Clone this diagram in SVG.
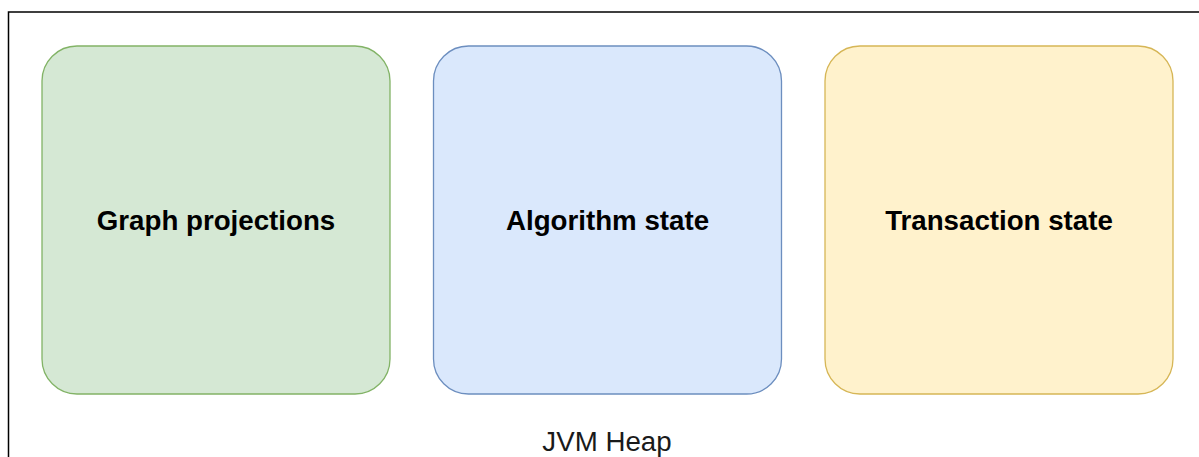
<svg xmlns="http://www.w3.org/2000/svg" width="1199" height="457" viewBox="0 0 1199 457">
<style>
.box{stroke-width:1.3}
.lbl{font-family:"Liberation Sans",Arial,sans-serif;font-weight:bold;font-size:27.7px;fill:#000;text-anchor:middle}
.heap{font-family:"Liberation Sans",Arial,sans-serif;font-size:27.7px;fill:#1a1a1a;text-anchor:middle}
</style>
<rect width="1199" height="457" fill="#fff"/>
<g id="jvm-heap">
<rect x="8.5" y="12" width="1200" height="460" fill="none" stroke="#000" stroke-width="1.5"/>
<text class="heap" x="607" y="451">JVM Heap</text>
</g>
<g id="graph-projections">
<rect class="box" x="42" y="46" width="348" height="348" rx="35" fill="#d5e8d4" stroke="#82b366"/>
<text class="lbl" x="216" y="230">Graph projections</text>
</g>
<g id="algorithm-state">
<rect class="box" x="433.5" y="46" width="348" height="348" rx="35" fill="#dae8fc" stroke="#6c8ebf"/>
<text class="lbl" x="607.5" y="230">Algorithm state</text>
</g>
<g id="transaction-state">
<rect class="box" x="825" y="46" width="348" height="348" rx="35" fill="#fff2cc" stroke="#d6b656"/>
<text class="lbl" x="999" y="230">Transaction state</text>
</g>
<g id="connectors"></g>
</svg>
